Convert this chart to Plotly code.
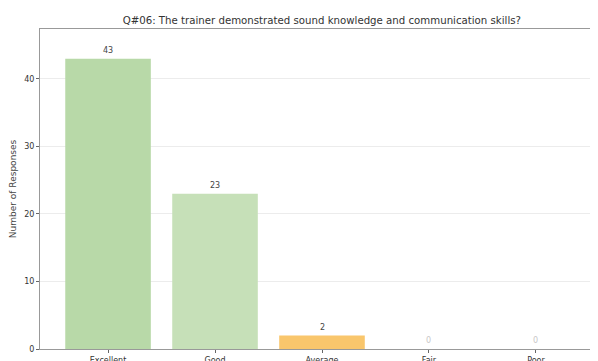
import plotly.graph_objects as go

categories = ["Excellent", "Good", "Average", "Fair", "Poor"]
responses = [43, 23, 2, 0, 0]
bar_colors = ["#b8d9a8", "#c6e0b8", "#f9c66c", "#f4a6a0", "#e88880"]
label_colors = ["#444444", "#444444", "#444444", "#c8c8c8", "#c8c8c8"]
y_ticks = [0, 10, 20, 30, 40]
title_text = "Q#06: The trainer demonstrated sound knowledge and communication skills?"
y_title = "Number of Responses"

fig = go.Figure()
fig.add_trace(go.Bar(
    x=list(range(len(categories))), y=responses,
    marker=dict(color=bar_colors, line=dict(width=0)),
    width=0.8, showlegend=False, hoverinfo="skip",
))
for i, (v, c) in enumerate(zip(responses, label_colors)):
    fig.add_annotation(
        x=i, y=v, text=str(v), showarrow=False, yanchor="bottom", yshift=2,
        font=dict(family="DejaVu Sans", size=8, color=c),
    )

# page body has an 8px default margin, so the figure is drawn 8px in and 8px down
fig.update_layout(
    width=590, height=353,
    margin=dict(l=32, r=0, t=21, b=12, autoexpand=False),
    paper_bgcolor="#ffffff", plot_bgcolor="#ffffff",
    font=dict(family="DejaVu Sans", color="#444444"),
    title=dict(text=title_text, x=0.505, xref="paper", xanchor="center",
               y=1 - 12 / 353, yref="container", yanchor="middle",
               font=dict(size=10.2, color="#333333")),
    bargap=0.2,
)
fig.update_xaxes(
    range=[-0.636, 4.58], tickmode="array",
    tickvals=list(range(len(categories))), ticktext=categories,
    ticks="outside", ticklen=3, tickcolor="#666666",
    tickfont=dict(size=8, color="#333333"),
    showgrid=False, showline=True, linecolor="#999999", linewidth=1,
    mirror=True, zeroline=False, automargin=False,
)
fig.update_yaxes(
    range=[0, 47.4], tickmode="array", tickvals=y_ticks,
    ticks="outside", ticklen=3, tickcolor="#666666",
    tickfont=dict(size=8, color="#333333"),
    showgrid=True, gridcolor="#ececec", gridwidth=1,
    showline=True, linecolor="#999999", linewidth=1, mirror=False,
    zeroline=False, automargin=False,
    title=dict(text=y_title, font=dict(size=9, color="#444444"), standoff=6),
)

fig.write_html("out.html")
